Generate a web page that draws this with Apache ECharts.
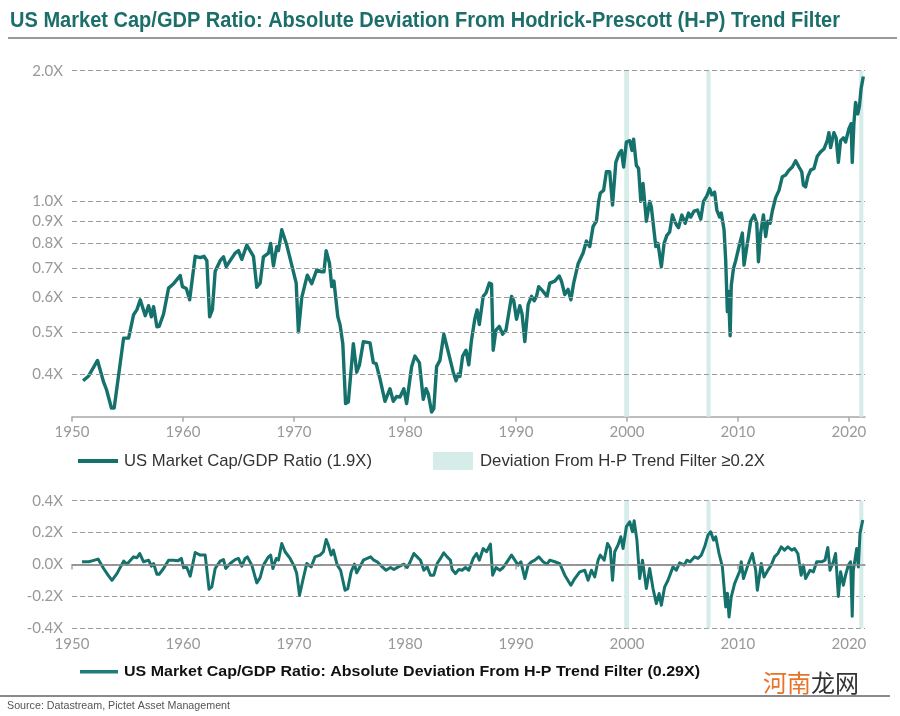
<!DOCTYPE html>
<html>
<head>
<meta charset="utf-8">
<script src="https://cdn.jsdelivr.net/npm/echarts@6/dist/echarts.min.js"></script>
<style>
html,body{margin:0;padding:0;background:#fff;}
#chart{width:900px;height:716px;}
</style>
</head>
<body>
<div id="chart"></div>
<script>
// ---- Data ----
var ratioYears = [1951.0,1951.5,1952.3,1952.85,1953.1,1953.55,1953.8,1954.65,1955.1,1955.55,1955.85,1956.15,1956.6,1956.9,1957.15,1957.35,1957.65,1957.85,1958.25,1958.7,1959.15,1959.45,1959.75,1959.95,1960.3,1960.6,1961.1,1961.55,1961.9,1962.15,1962.4,1962.65,1962.9,1963.35,1963.65,1963.9,1964.25,1964.7,1965.0,1965.3,1965.75,1965.9,1966.35,1966.65,1966.95,1967.25,1967.7,1967.9,1968.15,1968.45,1968.6,1968.9,1969.35,1969.8,1970.2,1970.4,1970.7,1971.2,1971.6,1972.05,1972.5,1972.7,1972.9,1973.2,1973.4,1973.6,1973.95,1974.15,1974.4,1974.65,1974.9,1975.35,1975.65,1975.9,1976.25,1976.85,1977.15,1977.4,1977.75,1978.2,1978.65,1978.95,1979.25,1979.55,1979.9,1980.15,1980.6,1980.9,1981.3,1981.65,1981.9,1982.1,1982.4,1982.6,1982.85,1983.15,1983.5,1983.9,1984.35,1984.6,1984.8,1984.95,1985.2,1985.5,1985.75,1986.0,1986.3,1986.5,1986.7,1986.8,1987.05,1987.3,1987.6,1987.8,1987.95,1988.2,1988.5,1988.8,1989.1,1989.4,1989.6,1989.8,1990.05,1990.35,1990.55,1990.8,1991.1,1991.4,1991.65,1991.85,1992.05,1992.45,1992.8,1993.05,1993.5,1993.9,1994.1,1994.4,1994.7,1994.95,1995.2,1995.6,1996.05,1996.35,1996.65,1996.95,1997.25,1997.45,1997.6,1997.9,1998.15,1998.45,1998.7,1999.0,1999.3,1999.5,1999.7,1999.95,2000.25,2000.45,2000.6,2000.85,2001.05,2001.25,2001.45,2001.75,2002.05,2002.2,2002.6,2002.8,2003.1,2003.35,2003.6,2003.85,2004.1,2004.3,2004.5,2004.65,2004.95,2005.25,2005.55,2005.75,2006.05,2006.35,2006.65,2006.9,2007.2,2007.45,2007.65,2007.9,2008.1,2008.35,2008.5,2008.75,2008.9,2009.05,2009.15,2009.3,2009.4,2009.6,2009.8,2010.1,2010.4,2010.55,2010.85,2011.15,2011.45,2011.7,2011.85,2012.05,2012.3,2012.5,2012.7,2012.9,2013.1,2013.4,2013.7,2014.0,2014.3,2014.6,2014.9,2015.2,2015.5,2015.75,2015.9,2016.1,2016.3,2016.55,2016.85,2017.15,2017.45,2017.75,2018.05,2018.2,2018.35,2018.65,2018.85,2019.05,2019.25,2019.5,2019.7,2020.0,2020.2,2020.3,2020.45,2020.6,2020.8,2020.95,2021.1,2021.3];
var ratioValues = [0.386,0.396,0.43,0.383,0.369,0.334,0.334,0.484,0.484,0.548,0.563,0.593,0.545,0.575,0.542,0.572,0.514,0.515,0.55,0.631,0.646,0.66,0.675,0.636,0.63,0.593,0.747,0.742,0.747,0.73,0.542,0.563,0.69,0.73,0.745,0.707,0.73,0.76,0.77,0.735,0.793,0.80,0.747,0.634,0.648,0.745,0.76,0.80,0.71,0.786,0.77,0.86,0.793,0.713,0.648,0.50,0.60,0.676,0.646,0.695,0.688,0.688,0.77,0.72,0.636,0.655,0.542,0.52,0.47,0.342,0.345,0.47,0.404,0.42,0.475,0.472,0.425,0.423,0.39,0.346,0.37,0.346,0.355,0.354,0.37,0.342,0.416,0.44,0.425,0.35,0.37,0.36,0.327,0.333,0.416,0.43,0.494,0.45,0.404,0.386,0.40,0.395,0.44,0.454,0.42,0.48,0.537,0.562,0.52,0.516,0.604,0.615,0.648,0.645,0.454,0.505,0.515,0.494,0.505,0.562,0.604,0.59,0.535,0.575,0.55,0.475,0.578,0.604,0.59,0.604,0.636,0.62,0.604,0.648,0.655,0.673,0.655,0.61,0.627,0.593,0.648,0.718,0.76,0.81,0.787,0.875,0.90,0.999,1.045,1.06,1.17,1.17,0.98,1.23,1.29,1.31,1.2,1.37,1.38,1.31,1.39,1.21,1.19,1.0,1.1,0.9,1.0,0.97,0.787,0.80,0.707,0.80,0.835,0.85,0.93,0.90,0.88,0.87,0.93,0.89,0.94,0.92,0.95,0.955,0.91,1.0,1.03,1.07,1.035,1.05,0.955,0.92,0.94,0.86,0.73,0.557,0.62,0.49,0.64,0.70,0.73,0.787,0.845,0.713,0.80,0.90,0.93,0.89,0.726,0.845,0.93,0.83,0.90,0.89,0.95,1.02,1.06,1.14,1.15,1.18,1.2,1.24,1.2,1.17,1.09,1.08,1.14,1.18,1.19,1.27,1.30,1.32,1.38,1.44,1.33,1.44,1.40,1.23,1.38,1.40,1.37,1.47,1.51,1.23,1.51,1.69,1.59,1.66,1.82,1.94];

var devYears = [1950.9,1951.5,1951.8,1952.35,1952.85,1953.25,1953.6,1954.05,1954.65,1954.95,1955.55,1955.85,1956.1,1956.45,1956.9,1957.15,1957.35,1957.65,1957.85,1958.25,1958.7,1959.15,1959.55,1959.85,1960.05,1960.35,1960.65,1961.1,1961.55,1962.0,1962.35,1962.6,1962.9,1963.35,1963.65,1963.85,1964.25,1964.7,1965.0,1965.3,1965.6,1965.8,1966.2,1966.65,1966.95,1967.25,1967.7,1967.9,1968.1,1968.4,1968.6,1968.9,1969.2,1969.65,1970.05,1970.25,1970.5,1970.8,1971.15,1971.55,1971.9,1972.35,1972.65,1972.9,1973.1,1973.35,1973.55,1973.9,1974.2,1974.4,1974.6,1974.85,1975.15,1975.45,1975.65,1975.9,1976.25,1976.9,1977.2,1977.5,1977.95,1978.3,1978.7,1979.0,1979.4,1979.9,1980.2,1980.4,1980.8,1981.1,1981.4,1981.7,1982.0,1982.3,1982.6,1982.9,1983.2,1983.5,1983.8,1984.1,1984.25,1984.55,1984.85,1985.15,1985.45,1985.75,1986.15,1986.45,1986.7,1987.05,1987.35,1987.7,1987.9,1988.2,1988.55,1988.85,1989.2,1989.6,1989.9,1990.2,1990.45,1990.8,1991.1,1991.4,1991.7,1992.05,1992.45,1992.8,1993.05,1993.5,1993.95,1994.4,1994.95,1995.3,1995.75,1996.2,1996.5,1996.8,1997.1,1997.4,1997.6,1997.95,1998.25,1998.5,1998.7,1998.9,1999.2,1999.45,1999.65,1999.95,2000.25,2000.5,2000.65,2000.9,2001.15,2001.4,2001.75,2002.05,2002.35,2002.65,2002.9,2003.1,2003.4,2003.7,2004.15,2004.45,2004.75,2005.15,2005.4,2005.7,2006.1,2006.4,2006.7,2007.0,2007.3,2007.55,2007.8,2008.0,2008.3,2008.6,2008.9,2009.05,2009.2,2009.4,2009.7,2010.2,2010.3,2010.5,2010.9,2011.3,2011.6,2011.75,2012.1,2012.35,2012.7,2013.0,2013.3,2013.6,2013.9,2014.2,2014.5,2014.85,2015.1,2015.4,2015.7,2015.9,2016.1,2016.5,2016.8,2017.1,2017.55,2017.85,2018.1,2018.3,2018.6,2018.8,2019.05,2019.25,2019.5,2019.7,2019.95,2020.15,2020.3,2020.4,2020.7,2020.85,2021.0,2021.25];
var devValues = [0.017,0.017,0.023,0.034,-0.025,-0.067,-0.099,-0.057,0.021,0.002,0.048,0.042,0.069,0.017,0.027,-0.01,0.006,-0.061,-0.061,-0.025,0.027,0.027,0.023,0.038,-0.019,-0.019,-0.073,0.075,0.059,0.059,-0.155,-0.14,-0.025,0.021,0.031,-0.025,0.006,0.031,0.038,-0.01,0.038,0.048,-0.004,-0.115,-0.082,-0.004,0.048,0.059,-0.025,0.038,0.027,0.132,0.08,0.038,-0.015,-0.057,-0.193,-0.099,0.006,-0.015,0.048,0.059,0.08,0.157,0.122,0.059,0.09,-0.004,-0.036,-0.099,-0.161,-0.151,-0.046,0.002,-0.052,-0.02,0.027,0.048,0.027,0.017,-0.015,-0.036,-0.019,-0.031,-0.015,0.002,-0.019,0.006,0.069,0.048,0.027,-0.036,-0.015,-0.067,-0.067,0.006,0.038,0.073,0.048,0.027,-0.031,-0.057,-0.031,-0.036,-0.019,-0.036,0.038,0.069,0.027,0.1,0.08,0.128,-0.067,-0.019,-0.036,-0.019,0.017,0.059,0.027,-0.004,0.017,-0.088,-0.004,0.017,0.027,0.048,0.017,0.002,0.027,0.017,0.006,-0.067,-0.13,-0.088,-0.046,-0.036,-0.099,-0.036,-0.078,0.027,0.059,0.027,0.132,0.1,-0.099,0.08,0.122,0.174,0.1,0.237,0.268,0.205,0.275,0.153,-0.088,0.027,-0.151,-0.025,-0.151,-0.245,-0.182,-0.256,-0.14,-0.099,-0.015,-0.036,0.01,-0.004,0.027,0.017,0.048,0.038,0.059,0.111,0.184,0.205,0.153,0.174,0.069,-0.015,-0.266,-0.18,-0.329,-0.203,-0.12,-0.036,0.017,-0.088,-0.004,0.069,-0.036,-0.161,0.006,-0.078,-0.036,-0.004,0.048,0.069,0.111,0.09,0.111,0.09,0.1,0.069,-0.067,-0.004,-0.088,-0.036,-0.046,0.017,0.017,0.027,0.107,-0.036,0.017,0.069,-0.2,-0.046,-0.13,-0.067,-0.004,0.017,-0.325,-0.036,0.1,-0.015,0.195,0.279];

// Periods where deviation from H-P trend >= 0.2X
var bandStarts = [1999.76, 2007.17, 2020.93];
var bandEnds   = [2000.18, 2007.54, 2021.30];

var ratioTicks = [0.4, 0.5, 0.6, 0.7, 0.8, 0.9, 1.0, 2.0];
var yearTicks = [1950, 1960, 1970, 1980, 1990, 2000, 2010, 2020];

// ---- Styling ----
var TEAL = '#15716c';
var BAND = '#d6ece9';
var GRIDC = '#9a9a9a';
var LABELC = '#999999';
var LABELFONT = 'Lato, "Open Sans", sans-serif';
var SANS = '"Liberation Sans", Arial, sans-serif';

// measure text to emulate the condensed typeface with a horizontal squeeze
var measureCtx = document.createElement('canvas').getContext('2d');
function fitScale(text, font, target) {
  measureCtx.font = font;
  var w = measureCtx.measureText(text).width;
  return w > 0 ? target / w : 1;
}
function fittedText(text, x, y, size, weight, family, color, targetWidth) {
  var font = weight + ' ' + size + 'px ' + family;
  return {
    type: 'text', x: x, y: y, silent: true,
    scaleX: fitScale(text, font, targetWidth), scaleY: 1,
    style: { text: text, fill: color, fontSize: size, fontWeight: weight, fontFamily: family, verticalAlign: 'middle' }
  };
}

function zip(a, b) { return a.map(function (x, i) { return [x, b[i]]; }); }
function bands() {
  return bandStarts.map(function (s, i) { return [{ xAxis: s }, { xAxis: bandEnds[i] }]; });
}

var chart = echarts.init(document.getElementById('chart'), null, { renderer: 'canvas' });

function xAxisFor(grid) {
  return {
    gridIndex: grid, type: 'value', min: 1950, max: 2021.45,
    axisLine: { show: true, lineStyle: { color: '#a8a8a8', width: 1.5 } },
    axisTick: { show: true, length: 5, lineStyle: { color: '#a8a8a8', width: 1.5 }, customValues: yearTicks },
    axisLabel: {
      customValues: yearTicks, color: LABELC, fontSize: 15, fontFamily: LABELFONT, margin: 8,
      formatter: function (v) { return String(Math.round(v)); }
    },
    splitLine: { show: false }
  };
}

var TITLE = 'US Market Cap/GDP Ratio: Absolute Deviation From Hodrick-Prescott (H-P) Trend Filter';
var LEG1 = 'US Market Cap/GDP Ratio (1.9X)';
var LEG2 = 'Deviation From H-P Trend Filter \u22650.2X';
var LEG3 = 'US Market Cap/GDP Ratio: Absolute Deviation From H-P Trend Filter (0.29X)';

var option = {
  animation: false,
  backgroundColor: '#ffffff',
  grid: [
    { left: 72, right: 35, top: 70.7, height: 346 },
    { left: 72, right: 35, top: 500.7, height: 127.6 }
  ],
  xAxis: [xAxisFor(0), xAxisFor(1)],
  yAxis: [
    {
      gridIndex: 0, type: 'log', logBase: 10, min: 0.319, max: 2.0,
      axisLine: { show: false }, axisTick: { show: false },
      axisLabel: { show: false }, splitLine: { show: false }
    },
    {
      gridIndex: 1, type: 'value', min: -0.4, max: 0.4, interval: 0.2,
      axisLine: { show: false }, axisTick: { show: false },
      axisLabel: {
        color: LABELC, fontSize: 15, fontFamily: LABELFONT, margin: 9,
        formatter: function (v) { return (Math.abs(v) < 1e-9 ? 0 : v).toFixed(1) + 'X'; }
      },
      splitLine: { show: true, lineStyle: { color: GRIDC, type: [5, 3], width: 1 } }
    }
  ],
  series: [
    {
      type: 'line', xAxisIndex: 0, yAxisIndex: 0, z: 1, silent: true,
      data: zip(ratioYears, ratioValues), showSymbol: false,
      lineStyle: { opacity: 0 },
      markArea: { silent: true, itemStyle: { color: BAND }, data: bands() },
      markLine: {
        silent: true, symbol: 'none', animation: false,
        lineStyle: { color: GRIDC, type: [5, 3], width: 1 },
        label: {
          position: 'start', distance: 9, color: LABELC, fontSize: 15, fontFamily: LABELFONT,
          formatter: function (p) { return Number(p.value).toFixed(1) + 'X'; }
        },
        data: ratioTicks.map(function (v) { return { yAxis: v }; })
      }
    },
    {
      name: LEG1,
      type: 'line', xAxisIndex: 0, yAxisIndex: 0, z: 3,
      data: zip(ratioYears, ratioValues), showSymbol: false,
      lineStyle: { color: TEAL, width: 3.4, join: 'round' }
    },
    {
      type: 'line', xAxisIndex: 1, yAxisIndex: 1, z: 1, silent: true,
      data: zip(devYears, devValues), showSymbol: false,
      lineStyle: { opacity: 0 },
      markArea: { silent: true, itemStyle: { color: BAND }, data: bands() },
      markLine: {
        silent: true, symbol: 'none', animation: false,
        lineStyle: { color: '#8c8c8c', type: 'solid', width: 1.5 },
        label: { show: false },
        data: [{ yAxis: 0 }]
      }
    },
    {
      name: LEG3,
      type: 'line', xAxisIndex: 1, yAxisIndex: 1, z: 3,
      data: zip(devYears, devValues), showSymbol: false,
      lineStyle: { color: TEAL, width: 3, join: 'round' }
    }
  ],
  graphic: [
    fittedText(TITLE, 10, 21, 22, 'bold', SANS, '#1b6e69', 830),
    { type: 'rect', shape: { x: 8, y: 37, width: 889, height: 2 }, style: { fill: '#9a9a9a' }, silent: true },
    // top legend
    { type: 'rect', shape: { x: 78, y: 459, width: 40, height: 4 }, style: { fill: TEAL }, silent: true },
    fittedText(LEG1, 124, 461, 17, 'normal', SANS, '#333', 248),
    { type: 'rect', shape: { x: 433, y: 452, width: 40, height: 18 }, style: { fill: BAND }, silent: true },
    fittedText(LEG2, 480, 461, 17, 'normal', SANS, '#333', 285),
    // bottom legend
    { type: 'rect', shape: { x: 80, y: 670, width: 38, height: 3.5 }, style: { fill: '#1d7e77' }, silent: true },
    fittedText(LEG3, 124, 672, 15, 'bold', SANS, '#111', 576),
    { type: 'text', x: 763, y: 683, silent: true, style: { text: '河南', fill: '#e8742a', fontSize: 24, fontFamily: '"Noto Sans CJK SC", sans-serif', verticalAlign: 'middle' } },
    { type: 'text', x: 811, y: 683, silent: true, style: { text: '龙网', fill: '#333333', fontSize: 24, fontFamily: '"Noto Sans CJK SC", sans-serif', verticalAlign: 'middle' } },
    { type: 'rect', shape: { x: 0, y: 695, width: 890, height: 2 }, style: { fill: '#8a8a8a' }, silent: true },
    fittedText('Source: Datastream, Pictet Asset Management', 7, 706, 11, 'normal', SANS, '#555', 223)
  ]
};

chart.setOption(option);
</script>
</body>
</html>
